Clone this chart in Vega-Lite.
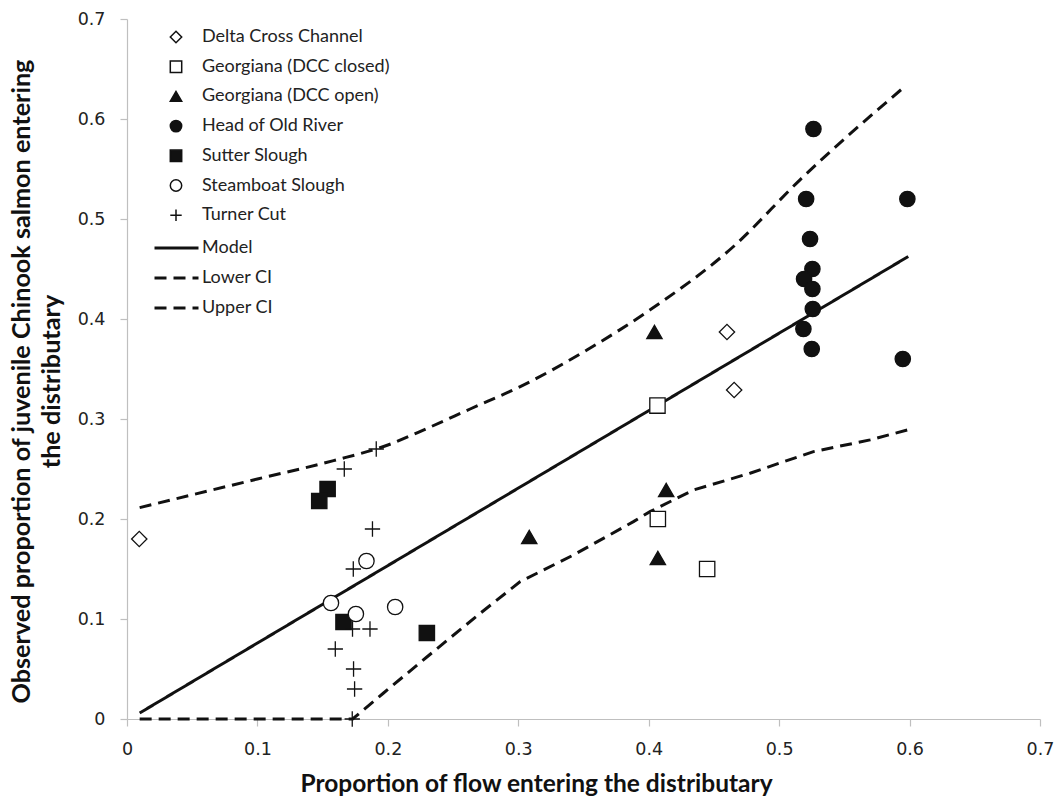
{
  "$schema": "https://vega.github.io/schema/vega-lite/v6.json",
  "width": 913,
  "height": 700,
  "autosize": {"type": "none"},
  "padding": {"left": 127, "top": 19, "right": 20, "bottom": 83},
  "background": "white",
  "config": {
    "view": {"stroke": null},
    "font": "Lato",
    "axis": {
      "grid": false,
      "domainColor": "#bfbfbf",
      "domainWidth": 1.2,
      "tickColor": "#bfbfbf",
      "tickWidth": 1.2,
      "tickSize": 7,
      "labelFont": "DejaVu Sans",
      "labelFontSize": 17.5,
      "labelColor": "#222222",
      "labelFlush": false,
      "labelOverlap": false,
      "labelBound": false,
      "titleFont": "Lato",
      "titleFontSize": 24.5,
      "titleFontWeight": "bold",
      "titleColor": "#111111"
    },
    "legend": {
      "labelFont": "Lato",
      "labelFontSize": 18,
      "labelColor": "#222222",
      "labelLimit": 0,
      "padding": 0
    }
  },
  "datasets": {
    "obs": [
      {"site": "Delta Cross Channel", "x": 0.0094, "y": 0.180},
      {"site": "Delta Cross Channel", "x": 0.460, "y": 0.387},
      {"site": "Delta Cross Channel", "x": 0.4655, "y": 0.329},
      {"site": "Georgiana (DCC closed)", "x": 0.4067, "y": 0.3134},
      {"site": "Georgiana (DCC closed)", "x": 0.407, "y": 0.200},
      {"site": "Georgiana (DCC closed)", "x": 0.4448, "y": 0.150},
      {"site": "Georgiana (DCC open)", "x": 0.4044, "y": 0.387},
      {"site": "Georgiana (DCC open)", "x": 0.4134, "y": 0.229},
      {"site": "Georgiana (DCC open)", "x": 0.3084, "y": 0.182},
      {"site": "Georgiana (DCC open)", "x": 0.407, "y": 0.161},
      {"site": "Head of Old River", "x": 0.5263, "y": 0.590},
      {"site": "Head of Old River", "x": 0.5207, "y": 0.520},
      {"site": "Head of Old River", "x": 0.5983, "y": 0.520},
      {"site": "Head of Old River", "x": 0.5237, "y": 0.480},
      {"site": "Head of Old River", "x": 0.5255, "y": 0.450},
      {"site": "Head of Old River", "x": 0.5191, "y": 0.440},
      {"site": "Head of Old River", "x": 0.5255, "y": 0.430},
      {"site": "Head of Old River", "x": 0.5258, "y": 0.410},
      {"site": "Head of Old River", "x": 0.5186, "y": 0.390},
      {"site": "Head of Old River", "x": 0.525, "y": 0.370},
      {"site": "Head of Old River", "x": 0.5948, "y": 0.360},
      {"site": "Sutter Slough", "x": 0.1538, "y": 0.230},
      {"site": "Sutter Slough", "x": 0.1474, "y": 0.218},
      {"site": "Sutter Slough", "x": 0.166, "y": 0.097},
      {"site": "Sutter Slough", "x": 0.2299, "y": 0.086},
      {"site": "Steamboat Slough", "x": 0.1836, "y": 0.158},
      {"site": "Steamboat Slough", "x": 0.1564, "y": 0.116},
      {"site": "Steamboat Slough", "x": 0.1755, "y": 0.105},
      {"site": "Steamboat Slough", "x": 0.2056, "y": 0.112},
      {"site": "Turner Cut", "x": 0.1911, "y": 0.270},
      {"site": "Turner Cut", "x": 0.1666, "y": 0.250},
      {"site": "Turner Cut", "x": 0.1882, "y": 0.190},
      {"site": "Turner Cut", "x": 0.1735, "y": 0.150},
      {"site": "Turner Cut", "x": 0.1729, "y": 0.090},
      {"site": "Turner Cut", "x": 0.1863, "y": 0.090},
      {"site": "Turner Cut", "x": 0.1597, "y": 0.070},
      {"site": "Turner Cut", "x": 0.1737, "y": 0.050},
      {"site": "Turner Cut", "x": 0.1745, "y": 0.030},
      {"site": "Turner Cut", "x": 0.1727, "y": 0.000}
    ],
    "curves": [
      {"series": "Model", "x": 0.0097, "y": 0.006},
      {"series": "Model", "x": 0.599, "y": 0.4625},
      {"series": "Lower CI", "x": 0.0097, "y": 0.0},
      {"series": "Lower CI", "x": 0.1730, "y": 0.0},
      {"series": "Lower CI", "x": 0.1967, "y": 0.026},
      {"series": "Lower CI", "x": 0.2299, "y": 0.062},
      {"series": "Lower CI", "x": 0.2708, "y": 0.1057},
      {"series": "Lower CI", "x": 0.3015, "y": 0.1374},
      {"series": "Lower CI", "x": 0.3423, "y": 0.164},
      {"series": "Lower CI", "x": 0.3883, "y": 0.1974},
      {"series": "Lower CI", "x": 0.401, "y": 0.2074},
      {"series": "Lower CI", "x": 0.4343, "y": 0.229},
      {"series": "Lower CI", "x": 0.4777, "y": 0.2458},
      {"series": "Lower CI", "x": 0.5263, "y": 0.2674},
      {"series": "Lower CI", "x": 0.5697, "y": 0.2791},
      {"series": "Lower CI", "x": 0.5985, "y": 0.2891},
      {"series": "Upper CI", "x": 0.0097, "y": 0.2114},
      {"series": "Upper CI", "x": 0.100, "y": 0.240},
      {"series": "Upper CI", "x": 0.1584, "y": 0.2584},
      {"series": "Upper CI", "x": 0.200, "y": 0.274},
      {"series": "Upper CI", "x": 0.2299, "y": 0.2905},
      {"series": "Upper CI", "x": 0.2631, "y": 0.310},
      {"series": "Upper CI", "x": 0.3015, "y": 0.3324},
      {"series": "Upper CI", "x": 0.3526, "y": 0.369},
      {"series": "Upper CI", "x": 0.4011, "y": 0.4092},
      {"series": "Upper CI", "x": 0.465, "y": 0.4725},
      {"series": "Upper CI", "x": 0.516, "y": 0.5392},
      {"series": "Upper CI", "x": 0.5950, "y": 0.631}
    ]
  },
  "layer": [
    {
      "data": {"name": "curves"},
      "transform": [{"filter": "datum.series !== 'Lower CI'"}],
      "mark": {"type": "line", "stroke": "#111111", "strokeWidth": 3, "strokeCap": "butt", "interpolate": "monotone"},
      "encoding": {
        "x": {
          "field": "x", "type": "quantitative",
          "scale": {"domain": [0, 0.7], "nice": false, "zero": false},
          "axis": {
            "values": [0, 0.1, 0.2, 0.3, 0.4, 0.5, 0.6, 0.7],
            "format": ".1~f",
            "labelPadding": 14,
            "title": "Proportion of flow entering the distributary",
            "titleX": 409,
            "titleY": 65,
            "titleBaseline": "middle",
            "titleAlign": "center"
          }
        },
        "y": {
          "field": "y", "type": "quantitative",
          "scale": {"domain": [0, 0.7], "nice": false, "zero": false},
          "axis": {
            "values": [0, 0.1, 0.2, 0.3, 0.4, 0.5, 0.6, 0.7],
            "format": ".1~f",
            "labelPadding": 15,
            "title": ["Observed proportion of juvenile Chinook salmon entering", "the distributary"],
            "titleFontSize": 25.2,
            "titleX": -106,
            "titleY": 362,
            "titleAngle": -90,
            "titleBaseline": "middle",
            "titleAlign": "center",
            "titleLineHeight": 30
          }
        },
        "strokeDash": {
          "field": "series", "type": "nominal",
          "scale": {"domain": ["Model", "Lower CI", "Upper CI"], "range": [[1, 0], [12, 7], [12, 7]]},
          "legend": {
            "orient": "none", "legendX": 26, "legendY": 219, "title": null,
            "labelOffset": 2, "rowPadding": 10, "clipHeight": 20, "symbolSize": 1936,
            "symbolType": "stroke", "symbolStrokeWidth": 3, "symbolStrokeColor": "#111111"
          }
        }
      }
    },
    {
      "data": {"name": "curves"},
      "transform": [{"filter": "datum.series === 'Lower CI'"}],
      "mark": {"type": "line", "stroke": "#111111", "strokeWidth": 3, "strokeCap": "butt"},
      "encoding": {
        "x": {"field": "x", "type": "quantitative"},
        "y": {"field": "y", "type": "quantitative"},
        "strokeDash": {
          "field": "series", "type": "nominal",
          "scale": {"domain": ["Model", "Lower CI", "Upper CI"], "range": [[1, 0], [12, 7], [12, 7]]},
          "legend": {
            "orient": "none", "legendX": 26, "legendY": 219, "title": null,
            "labelOffset": 2, "rowPadding": 10, "clipHeight": 20, "symbolSize": 1936,
            "symbolType": "stroke", "symbolStrokeWidth": 3, "symbolStrokeColor": "#111111"
          }
        }
      }
    },
    {
      "data": {"name": "obs"},
      "mark": {"type": "point", "stroke": "#111111", "strokeWidth": 1.3, "opacity": 1, "size": 235},
      "encoding": {
        "x": {"field": "x", "type": "quantitative"},
        "y": {"field": "y", "type": "quantitative"},
        "shape": {
          "field": "site", "type": "nominal",
          "scale": {
            "domain": ["Delta Cross Channel", "Georgiana (DCC closed)", "Georgiana (DCC open)", "Head of Old River", "Sutter Slough", "Steamboat Slough", "Turner Cut"],
            "range": ["diamond", "square", "triangle-up", "circle", "square", "circle", "M-1,0H1M0,-1V1"]
          },
          "legend": {
            "orient": "none", "legendX": 40, "legendY": 9, "title": null,
            "labelOffset": 17, "rowPadding": 11.7, "symbolSize": 130,
            "encode": {"symbols": {"update": {"stroke": {"value": "#111111"}, "strokeWidth": {"value": 1.3}}}}
          }
        },
        "fill": {
          "field": "site", "type": "nominal",
          "scale": {
            "domain": ["Delta Cross Channel", "Georgiana (DCC closed)", "Georgiana (DCC open)", "Head of Old River", "Sutter Slough", "Steamboat Slough", "Turner Cut"],
            "range": ["white", "white", "#111111", "#111111", "#111111", "white", "white"]
          },
          "legend": {
            "orient": "none", "legendX": 40, "legendY": 9, "title": null,
            "labelOffset": 17, "rowPadding": 11.7, "symbolSize": 130,
            "encode": {"symbols": {"update": {"stroke": {"value": "#111111"}, "strokeWidth": {"value": 1.3}}}}
          }
        }
      }
    }
  ]
}
